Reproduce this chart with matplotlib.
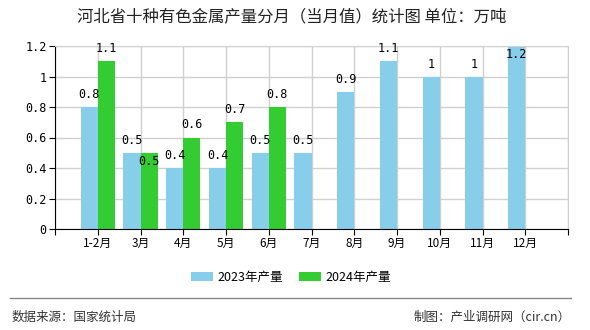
import numpy as np
import matplotlib.pyplot as plt

plt.rcParams['font.family'] = ['Noto Sans CJK SC', 'DejaVu Sans']

months = ['1-2月', '3月', '4月', '5月', '6月', '7月', '8月', '9月', '10月', '11月', '12月']
vals_2023 = [0.8, 0.5, 0.4, 0.4, 0.5, 0.5, 0.9, 1.1, 1, 1, 1.2]
vals_2024 = [1.1, 0.5, 0.6, 0.7, 0.8]
labels_2023 = ['0.8', '0.5', '0.4', '0.4', '0.5', '0.5', '0.9', '1.1', '1', '1', '1.2']
labels_2024 = ['1.1', '0.5', '0.6', '0.7', '0.8']

c23 = '#87CEEB'
c24 = '#33CC33'

fig = plt.figure(figsize=(5.9, 3.3), dpi=100)
ax = fig.add_axes([55/590, 101/330, 513/590, 183/330])

x = np.arange(len(months))
x24 = np.arange(len(vals_2024))
w = 0.4
ax.bar(x - w/2, vals_2023, w, color=c23, zorder=2, label='2023年产量')
ax.bar(x24 + w/2, vals_2024, w, color=c24, zorder=2, label='2024年产量')

ymax = 1.2
# value labels: above the bar, or tucked inside when there is no room
for i, (v, s) in enumerate(zip(vals_2023, labels_2023)):
    off = -6 if v >= ymax else 9
    ax.annotate(s, (i - w/2, v), xytext=(0, off), textcoords='offset points',
                ha='center', va='center', fontsize=8.5, family='DejaVu Sans Mono', zorder=3)
for i, (v, s) in enumerate(zip(vals_2024, labels_2024)):
    off = -6 if vals_2023[i] == v else 9
    ax.annotate(s, (i + w/2, v), xytext=(0, off), textcoords='offset points',
                ha='center', va='center', fontsize=8.5, family='DejaVu Sans Mono', zorder=3)

ax.set_xlim(-1, len(months))
ax.set_ylim(0, ymax)
ax.set_xticks(np.arange(-1, len(months) + 1))
ax.set_xticklabels([''] + months + [''], fontsize=8.5)
ax.set_yticks(np.arange(0, 1.21, 0.2))
ax.set_yticklabels(['0', '0.2', '0.4', '0.6', '0.8', '1', '1.2'], fontsize=8.5, family='DejaVu Sans Mono')
ax.grid(True, color='#d0d0d0', linewidth=1, zorder=0)
ax.tick_params(direction='out', length=4, color='black', pad=2)
ax.spines['left'].set_color('black')
ax.spines['bottom'].set_color('black')
ax.spines['top'].set_color('#d0d0d0')
ax.spines['right'].set_color('#d0d0d0')

fig.text(292/590, 0.948, '河北省十种有色金属产量分月（当月值）统计图 单位：万吨',
         ha='center', va='center', fontsize=11.8, color='#222222')

fig.legend(loc='center', bbox_to_anchor=(291/590, 1 - 277/330), ncol=2, frameon=False,
           fontsize=9, handlelength=1.75, handleheight=0.75, columnspacing=1.3,
           handletextpad=0.35)

fig.add_artist(plt.Line2D([10/590, 571/590], [1 - 298/330, 1 - 298/330],
                          color='#888888', linewidth=1))
fig.text(12/590, 1 - 317/330, '数据来源：国家统计局', ha='left', va='center',
         fontsize=9, color='#333333')
fig.text(571/590, 1 - 317/330, '制图：产业调研网（cir.cn）', ha='right', va='center',
         fontsize=9, color='#333333')

fig.savefig('out.png', dpi=100)
